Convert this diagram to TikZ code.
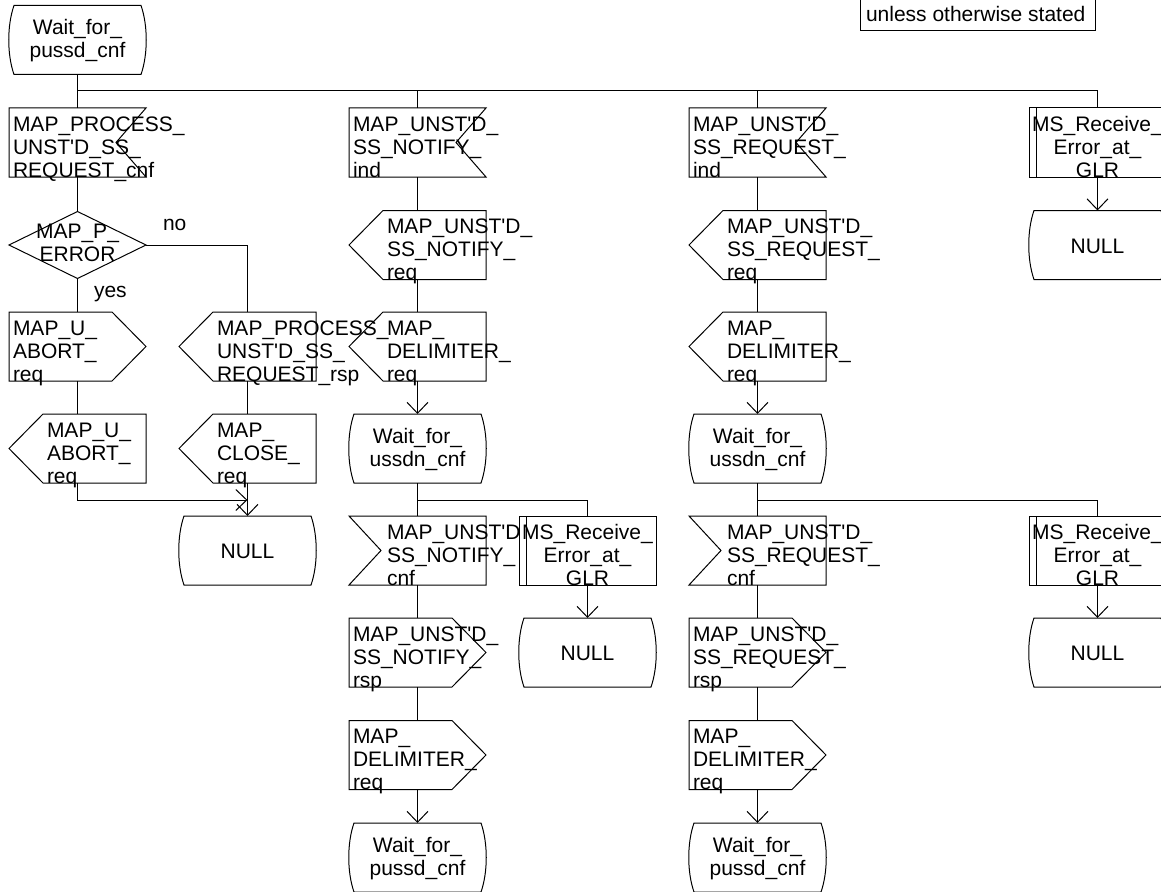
\documentclass[tikz,border=0pt]{standalone}
\usepackage{fontspec}
\setmainfont{Liberation Sans}
\usetikzlibrary{arrows.meta,calc}
\newcommand\sq{\textquotesingle}
\newcommand\shInR[1]{\draw[ln] (#1.north west) -- (#1.north east) -- ($(#1.east)+(-30,0)$) -- (#1.south east) -- (#1.south west) -- cycle;}
\newcommand\shInL[1]{\draw[ln] (#1.north west) -- (#1.north east) -- (#1.south east) -- (#1.south west) -- ($(#1.west)+(32,0)$) -- cycle;}
\newcommand\shOutR[1]{\draw[ln] (#1.north west) -- ($(#1.north east)+(-34,0)$) -- (#1.east) -- ($(#1.south east)+(-34,0)$) -- (#1.south west) -- cycle;}
\newcommand\shOutL[1]{\draw[ln] ($(#1.north west)+(34,0)$) -- (#1.north east) -- (#1.south east) -- ($(#1.south west)+(34,0)$) -- (#1.west) -- cycle;}
\newcommand\shState[1]{\draw[ln] ($(#1.north west)+(5,0)$) -- ($(#1.north east)+(-5,0)$) .. controls ($(#1.north east)+(2,20)$) and ($(#1.south east)+(2,-20)$) .. ($(#1.south east)+(-5,0)$) -- ($(#1.south west)+(5,0)$) .. controls ($(#1.south west)+(-2,-20)$) and ($(#1.north west)+(-2,20)$) .. cycle;}
\newcommand\shProc[1]{\draw[ln] (#1.north west) rectangle (#1.south east); \draw[ln] ($(#1.north west)+(7,0)$) -- ($(#1.south west)+(7,0)$);}
\newcommand\shDiam[1]{\draw[ln] (#1.north) -- (#1.east) -- (#1.south) -- (#1.west) -- cycle;}
\begin{document}
\begin{tikzpicture}[x=0.75pt,y=-0.75pt,
  ln/.style={line width=0.75pt, draw=black},
  arr/.style={ln, -{Straight Barb[length=8.25pt,width=15.75pt]}},
  frame/.style={rectangle, draw=none, inner sep=0pt, outer sep=0pt, minimum width=102.75pt, minimum height=51.75pt},
  dframe/.style={frame, minimum height=50.25pt},
  txt/.style={inner sep=0pt, outer sep=0pt, text depth=0pt, font=\fontsize{15.75pt}{17.25pt}\selectfont},
  tl/.style={txt, align=left, anchor=south west},
  tc/.style={txt, align=center, anchor=south},
  tn/.style={txt, anchor=base},
]
\useasboundingbox (0,0) rectangle (1161,892);
\clip (0,0) rectangle (1161,892);

% ---------- shape frames ----------
\node[frame] (A1) at (77.5,40) {};
\node[frame] (B1) at (77.5,142.5) {};
\node[frame] (B3) at (417.5,142.5) {};
\node[frame] (B4) at (757.5,142.5) {};
\node[frame] (B5) at (1097.5,142.5) {};
\node[dframe] (C1) at (77.5,245) {};
\node[frame] (C3) at (417.5,245) {};
\node[frame] (C4) at (757.5,245) {};
\node[frame] (C5) at (1097.5,245) {};
\node[frame] (D1) at (77.5,346.5) {};
\node[frame] (D2) at (247.5,346.5) {};
\node[frame] (D3) at (417.5,346.5) {};
\node[frame] (D4) at (757.5,346.5) {};
\node[frame] (E1) at (77.5,448.5) {};
\node[frame] (E2) at (247.5,448.5) {};
\node[frame] (E3) at (417.5,448.5) {};
\node[frame] (E4) at (757.5,448.5) {};
\node[frame] (F2) at (247.5,550.5) {};
\node[frame] (F3) at (417.5,550.5) {};
\node[frame] (P3) at (587.5,550.5) {};
\node[frame] (F4) at (757.5,550.5) {};
\node[frame] (F5) at (1097.5,550.5) {};
\node[frame] (G3) at (417.5,652.5) {};
\node[frame] (N3) at (587.5,652.5) {};
\node[frame] (G4) at (757.5,652.5) {};
\node[frame] (G5) at (1097.5,652.5) {};
\node[frame] (H3) at (417.5,755) {};
\node[frame] (H4) at (757.5,755) {};
\node[frame] (I3) at (417.5,857.5) {};
\node[frame] (I4) at (757.5,857.5) {};

% ---------- outlines ----------
\shState{A1}
\shInR{B1} \shInR{B3} \shInR{B4} \shProc{B5}
\shDiam{C1} \shOutL{C3} \shOutL{C4} \shState{C5}
\shOutR{D1} \shOutL{D2} \shOutL{D3} \shOutL{D4}
\shOutL{E1} \shOutL{E2} \shState{E3} \shState{E4}
\shState{F2} \shInL{F3} \shProc{P3} \shInL{F4} \shProc{F5}
\shOutR{G3} \shState{N3} \shOutR{G4} \shState{G5}
\shOutR{H3} \shOutR{H4}
\shState{I3} \shState{I4}

% ---------- note box ----------
\node[ln, draw, rectangle, inner sep=0pt, outer sep=0pt, minimum width=176.25pt, minimum height=30pt, anchor=south west] (note) at (860,31) {};
\node[txt, anchor=base west] (notetxt) at (866,22) {unless otherwise stated};

% ---------- texts ----------
\node[tc] (tA1) at ($(A1.south)+(0,-17)$) {Wait\_for\_\\pussd\_cnf};
\node[tl] (tB1) at ($(B1.south west)+(4,0)$) {MAP\_PROCESS\_\\UNST\sq D\_SS\_\\REQUEST\_cnf};
\node[tl] (tB3) at ($(B3.south west)+(4,0)$) {MAP\_UNST\sq D\_\\SS\_NOTIFY\_\\ind};
\node[tl] (tB4) at ($(B4.south west)+(4,0)$) {MAP\_UNST\sq D\_\\SS\_REQUEST\_\\ind};
\node[tc] (tB5) at (B5.south) {MS\_Receive\_\\Error\_at\_\\GLR};
\node[tc] (tC1) at ($(C1.center)+(0,16)$) {MAP\_P\_\\ERROR};
\node[tl] (tC3) at ($(C3.south west)+(38,0)$) {MAP\_UNST\sq D\_\\SS\_NOTIFY\_\\req};
\node[tl] (tC4) at ($(C4.south west)+(38,0)$) {MAP\_UNST\sq D\_\\SS\_REQUEST\_\\req};
\node[tn] (tC5) at ($(C5.center)+(0,8)$) {NULL};
\node[tl] (tD1) at ($(D1.south west)+(4,0)$) {MAP\_U\_\\ABORT\_\\req};
\node[tl] (tD2) at ($(D2.south west)+(38,0)$) {MAP\_PROCESS\_\\UNST\sq D\_SS\_\\REQUEST\_rsp};
\node[tl] (tD3) at ($(D3.south west)+(38,0)$) {MAP\_\\DELIMITER\_\\req};
\node[tl] (tD4) at ($(D4.south west)+(38,0)$) {MAP\_\\DELIMITER\_\\req};
\node[tl] (tE1) at ($(E1.south west)+(38,0)$) {MAP\_U\_\\ABORT\_\\req};
\node[tl] (tE2) at ($(E2.south west)+(38,0)$) {MAP\_\\CLOSE\_\\req};
\node[tc] (tE3) at ($(E3.south)+(0,-17)$) {Wait\_for\_\\ussdn\_cnf};
\node[tc] (tE4) at ($(E4.south)+(0,-17)$) {Wait\_for\_\\ussdn\_cnf};
\node[tn] (tF2) at ($(F2.center)+(0,8)$) {NULL};
\node[tl] (tF3) at ($(F3.south west)+(38,0)$) {MAP\_UNST\sq D\\SS\_NOTIFY\_\\cnf};
\node[tc] (tP3) at (P3.south) {MS\_Receive\_\\Error\_at\_\\GLR};
\node[tl] (tF4) at ($(F4.south west)+(38,0)$) {MAP\_UNST\sq D\_\\SS\_REQUEST\_\\cnf};
\node[tc] (tF5) at (F5.south) {MS\_Receive\_\\Error\_at\_\\GLR};
\node[tl] (tG3) at ($(G3.south west)+(4,0)$) {MAP\_UNST\sq D\_\\SS\_NOTIFY\_\\rsp};
\node[tn] (tN3) at ($(N3.center)+(0,8)$) {NULL};
\node[tl] (tG4) at ($(G4.south west)+(4,0)$) {MAP\_UNST\sq D\_\\SS\_REQUEST\_\\rsp};
\node[tn] (tG5) at ($(G5.center)+(0,8)$) {NULL};
\node[tl] (tH3) at ($(H3.south west)+(4,0)$) {MAP\_\\DELIMITER\_\\req};
\node[tl] (tH4) at ($(H4.south west)+(4,0)$) {MAP\_\\DELIMITER\_\\req};
\node[tc] (tI3) at ($(I3.south)+(0,-17)$) {Wait\_for\_\\pussd\_cnf};
\node[tc] (tI4) at ($(I4.south)+(0,-17)$) {Wait\_for\_\\pussd\_cnf};
\node[txt, anchor=base west] (lno) at (163,230) {no};
\node[txt, anchor=base west] (lyes) at (94,297) {yes};

% ---------- connectors ----------
\coordinate (j0) at (77.5,91);
\coordinate (j5) at (1097.5,91);
\draw[ln] (A1.south) -- (j0) -- (B1.north);
\draw[ln] (j0) -- (j5) -- (B5.north);
\draw[ln] (B3.north |- j0) -- (B3.north);
\draw[ln] (B4.north |- j0) -- (B4.north);

\draw[ln] (B1.south) -- (C1.north);
\draw[ln] (C1.south) -- (D1.north);
\draw[ln] (C1.east) -| (D2.north);
\draw[ln] (D1.south) -- (E1.north);
\draw[ln] (D2.south) -- (E2.north);
\coordinate (jn) at (247.5,500);
\draw[arr] (E1.south) |- (jn);
\draw[arr] (E2.south) -- (F2.north);

\draw[ln] (B3.south) -- (C3.north);
\draw[ln] (C3.south) -- (D3.north);
\draw[arr] (D3.south) -- (E3.north);
\coordinate (k3) at (417.5,500);
\draw[ln] (E3.south) -- (k3) -- (F3.north);
\draw[ln] (k3) -| (P3.north);
\draw[ln] (F3.south) -- (G3.north);
\draw[ln] (G3.south) -- (H3.north);
\draw[arr] (H3.south) -- (I3.north);
\draw[arr] (P3.south) -- (N3.north);

\draw[ln] (B4.south) -- (C4.north);
\draw[ln] (C4.south) -- (D4.north);
\draw[arr] (D4.south) -- (E4.north);
\coordinate (k4) at (757.5,500);
\draw[ln] (E4.south) -- (k4) -- (F4.north);
\draw[ln] (k4) -| (F5.north);
\draw[ln] (F4.south) -- (G4.north);
\draw[ln] (G4.south) -- (H4.north);
\draw[arr] (H4.south) -- (I4.north);
\draw[arr] (F5.south) -- (G5.north);
\draw[arr] (B5.south) -- (C5.north);
\end{tikzpicture}
\end{document}
